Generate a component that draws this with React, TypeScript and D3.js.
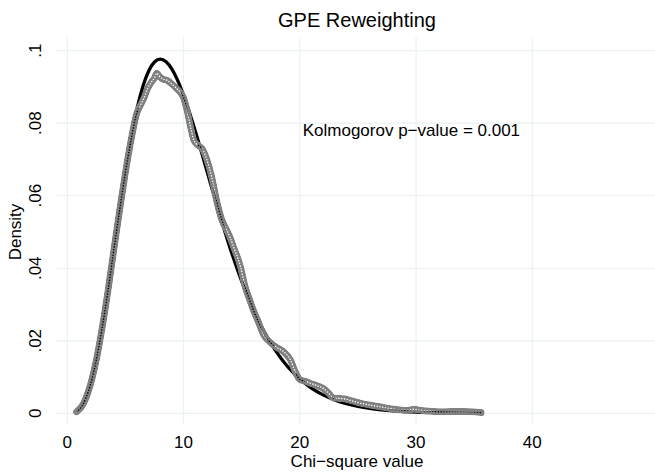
import React from "react";
import * as d3 from "d3";

// Theoretical chi-square density (black line)
const chiX = [0.8, 1, 1.5, 2, 2.5, 3, 3.5, 4, 4.5, 5, 5.5, 6, 6.5, 7, 7.5, 8, 8.5, 9, 9.5, 10, 11, 12, 13, 14, 15, 16, 17, 18, 19, 20, 21, 22, 23, 24, 25, 26, 27, 28, 30, 32, 35, 35.6];
const chiY = [0.00036, 0.00079, 0.00311, 0.00766, 0.01457, 0.02353, 0.03396, 0.04511, 0.05628, 0.0668, 0.07617, 0.08402, 0.09012, 0.0944, 0.09689, 0.09768, 0.09695, 0.09491, 0.09176, 0.08773, 0.07791, 0.06693, 0.05591, 0.04561, 0.03646, 0.02863, 0.02213, 0.01687, 0.0127, 0.00946, 0.00697, 0.00509, 0.00369, 0.00265, 0.0019, 0.00134, 0.00095, 0.00067, 0.00032, 0.00015, 0.00005, 0.00004];

// Reweighted kernel density (gray markers)
const kdX = [0.8, 1.0, 1.3, 1.6, 2.0, 2.5, 3.0, 3.5, 4.0, 4.5, 5.0, 5.5, 6.0, 6.3, 6.6, 6.9, 7.2, 7.5, 7.7, 7.9, 8.2, 8.6, 9.0, 9.4, 9.7, 10.0, 10.3, 10.6, 10.9, 11.3, 11.6, 12.0, 12.4, 12.9, 13.3, 13.7, 14.0, 14.3, 14.9, 15.3, 15.7, 16.0, 16.4, 16.9, 17.4, 18.0, 18.6, 19.2, 19.6, 20.0, 20.5, 20.9, 21.5, 22.0, 22.5, 22.9, 23.4, 23.8, 24.5, 25.2, 26.0, 26.9, 27.8, 28.5, 29.2, 29.8, 30.5, 31.3, 32.1, 33.0, 34.1, 34.8, 35.6];
const kdY = [0.0004, 0.001, 0.0022, 0.0042, 0.008, 0.0148, 0.0236, 0.0338, 0.045, 0.056, 0.0664, 0.0756, 0.083, 0.085, 0.087, 0.0895, 0.0912, 0.0925, 0.0938, 0.093, 0.0922, 0.0918, 0.0908, 0.0896, 0.0886, 0.087, 0.0835, 0.079, 0.0752, 0.0738, 0.073, 0.07, 0.0655, 0.0579, 0.0533, 0.0506, 0.0485, 0.0459, 0.0404, 0.0349, 0.0312, 0.0285, 0.0255, 0.0216, 0.0197, 0.0182, 0.017, 0.0147, 0.0115, 0.0093, 0.0088, 0.0083, 0.0076, 0.0069, 0.0055, 0.0042, 0.0041, 0.004, 0.0034, 0.0028, 0.0023, 0.0018, 0.0013, 0.001, 0.0008, 0.0011, 0.0008, 0.0006, 0.0004, 0.0005, 0.0005, 0.0004, 0.0002];

const xTicks = [0, 10, 20, 30, 40];
const yTicks = [0, 0.02, 0.04, 0.06, 0.08, 0.1];
const yTickLabels = ["0", ".02", ".04", ".06", ".08", ".1"];

const titleText = "GPE Reweighting";
const xTitle = "Chi\u2212square value";
const yTitle = "Density";
const noteText = "Kolmogorov p\u2212value = 0.001";
const notePos = [29.6, 0.0765];

export default function App() {
  const W = 655, H = 475;
  const x = d3.scaleLinear().domain([0, 40]).range([67.3, 532.3]);
  const y = d3.scaleLinear().domain([0, 0.1]).range([413.3, 50.7]);
  const plotLeft = 56, plotRight = 655, plotTop = 37, plotBottom = 424;
  const font = "'Liberation Sans', Arial, Helvetica, sans-serif";
  const grid = "#EAF2F3";

  const chiData = chiX.map((v, i) => [v, chiY[i]] as [number, number]);
  const kdData = kdX.map((v, i) => [v, kdY[i]] as [number, number]);
  const line = d3.line<[number, number]>().x(d => x(d[0])).y(d => y(d[1])).curve(d3.curveMonotoneX);
  const chiPath = line(chiData) || "";
  const kdPath = line(kdData) || "";

  return (
    <svg width={W} height={H} style={{ position: "absolute", left: 0, top: 0, background: "#fff" }} fontFamily={font}>
      <rect x={0} y={0} width={W} height={H} fill="#fff" />
      <defs>
        <mask id="kdmask" maskUnits="userSpaceOnUse" x={0} y={0} width={W} height={H}>
          <path d={kdPath} fill="none" stroke="white" strokeWidth={7} strokeLinejoin="round" strokeLinecap="round" />
          <path d={kdPath} fill="none" stroke="black" strokeWidth={1.6} strokeDasharray="0 2.8" strokeLinecap="round" />
        </mask>
      </defs>
      {/* gridlines */}
      {yTicks.map(t => (
        <line key={"gy" + t} x1={plotLeft} x2={plotRight} y1={y(t)} y2={y(t)} stroke={grid} strokeWidth={1.2} />
      ))}
      {xTicks.map(t => (
        <line key={"gx" + t} x1={x(t)} x2={x(t)} y1={plotTop} y2={plotBottom} stroke={grid} strokeWidth={1.2} />
      ))}
      {/* curves */}
      <path d={chiPath} fill="none" stroke="#000" strokeWidth={3.3} strokeLinejoin="round" />
      <path d={kdPath} fill="none" stroke="#808080" strokeWidth={7} strokeLinejoin="round" strokeLinecap="round" mask="url(#kdmask)" />
      {/* tick labels */}
      {xTicks.map(t => (
        <text key={"tx" + t} x={x(t)} y={448} fontSize={17} textAnchor="middle" fill="#000">{t}</text>
      ))}
      {yTicks.map((t, i) => (
        <text key={"ty" + t} transform={`translate(41,${y(t)}) rotate(-90)`} fontSize={17} textAnchor="middle" fill="#000">{yTickLabels[i]}</text>
      ))}
      {/* titles */}
      <text x={357} y={467} fontSize={17} textAnchor="middle" fill="#000">{xTitle}</text>
      <text transform={`translate(21,${(y(0) + y(0.1)) / 2}) rotate(-90)`} fontSize={17} textAnchor="middle" fill="#000">{yTitle}</text>
      <text x={357} y={27} fontSize={20} textAnchor="middle" fill="#000">{titleText}</text>
      <text x={x(notePos[0])} y={y(notePos[1])} fontSize={17} textAnchor="middle" fill="#000">{noteText}</text>
    </svg>
  );
}
